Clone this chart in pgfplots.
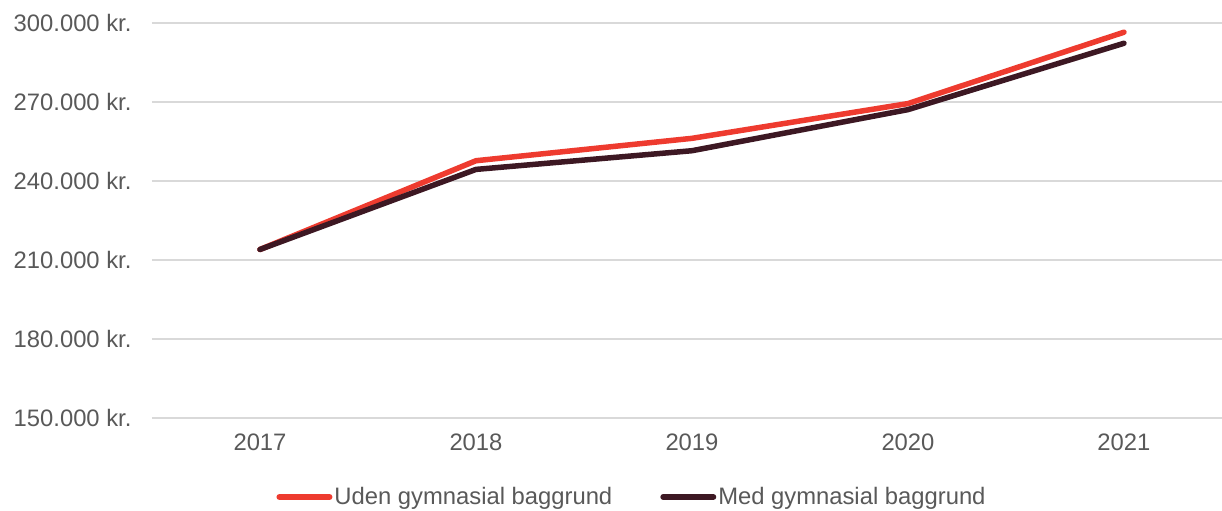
\documentclass[border=0pt]{standalone}
\usepackage{fontspec}
\setmainfont{Liberation Sans}
\usepackage{pgfplots}
\pgfplotsset{compat=1.18}
\definecolor{redline}{HTML}{EE3B2F}
\definecolor{darkline}{HTML}{3D1823}
\definecolor{txt}{HTML}{595959}
\definecolor{gridcol}{HTML}{D9D9D9}
\begin{document}
\begin{tikzpicture}
\begin{axis}[
  at={(0,0)}, anchor=south west,
  scale only axis, width=1070bp, height=395bp,
  xmin=2016.5, xmax=2021.454,
  ymin=150000, ymax=300000,
  axis line style={draw=none},
  scaled y ticks=false,
  xtick={2017,2018,2019,2020,2021},
  xticklabels={2017,2018,2019,2020,2021},
  ytick={150000,180000,210000,240000,270000,300000},
  yticklabels={150.000 kr.,180.000 kr.,210.000 kr.,240.000 kr.,270.000 kr.,300.000 kr.},
  major tick length=0pt,
  xmajorgrids=false, ymajorgrids=true, grid style={draw=gridcol, line width=1.3bp},
  tick label style={font=\fontsize{23.8bp}{28bp}\selectfont, text=txt},
  yticklabel style={anchor=east, xshift=-17bp},
  xticklabel style={yshift=-12bp},
  legend columns=2,
  legend style={draw=none, at={(0.4486,-0.2)}, anchor=center,
    font=\fontsize{23.8bp}{28bp}\selectfont, text=txt,
    /tikz/every even column/.append style={column sep=46bp},
    inner sep=0pt},
  legend image code/.code={\draw[#1, line width=6bp, line cap=round] (0bp,0bp) -- (50bp,0bp);},
  clip=false,
]
\addplot[redline, line width=5.5bp, line cap=round, line join=round] coordinates {
 (2017,214000) (2018,247700) (2019,256200) (2020,269400) (2021,296500)};
\addlegendentry{Uden gymnasial baggrund}
\addplot[darkline, line width=5.5bp, line cap=round, line join=round] coordinates {
 (2017,214000) (2018,244400) (2019,251500) (2020,267100) (2021,292300)};
\addlegendentry{Med gymnasial baggrund}
\end{axis}
\pgfresetboundingbox
\path[use as bounding box] (-152bp,-93bp) rectangle (1070bp,418bp);
\end{tikzpicture}
\end{document}
